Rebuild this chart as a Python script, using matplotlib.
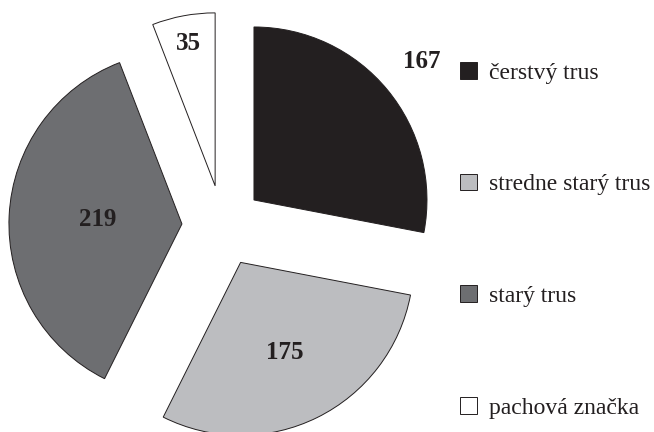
import matplotlib
matplotlib.use("Agg")
import matplotlib.pyplot as plt
import numpy as np

categories = ["čerstvý trus", "stredne starý trus", "starý trus", "pachová značka"]
values = [167, 175, 219, 35]
value_labels = ["167", "175", "219", "35"]
colors = ["#231f20", "#bcbdc0", "#6d6e71", "#ffffff"]

# layout (pixel units of the figure)
W, H = 654, 432
center = (222.6, H - 225.9)
radius = 173
explode_px = 40.7
label_dist = [1.257, 0.578, 0.486, 0.84]

fig = plt.figure(figsize=(W / 100, H / 100), dpi=100)
ax = fig.add_axes([0, 0, 1, 1])
wedges, _ = ax.pie(values, colors=colors, startangle=90, counterclock=False,
                   center=center, radius=radius, explode=[explode_px] * len(values),
                   wedgeprops=dict(edgecolor="#231f20", linewidth=0.7))
ax.set_xlim(0, W)
ax.set_ylim(0, H)
ax.set_aspect("equal")
ax.axis("off")

for w, lab, d in zip(wedges, value_labels, label_dist):
    mid = np.deg2rad((w.theta1 + w.theta2) / 2)
    cx, cy = w.center
    x = cx + d * w.r * np.cos(mid)
    y = cy + d * w.r * np.sin(mid)
    ax.text(x, y, lab, ha="center", va="center", fontsize=18, fontweight="bold",
            family="Liberation Serif", color="#231f20")

leg = ax.legend(wedges, categories, loc="upper left",
                bbox_to_anchor=(460 / W, 1 - 62 / H), bbox_transform=fig.transFigure,
                frameon=False, borderpad=0, borderaxespad=0,
                handlelength=0.72, handleheight=0.72, handletextpad=0.5,
                labelspacing=3.81, prop=dict(family="Liberation Serif", size=17))
for t in leg.get_texts():
    t.set_color("#231f20")

fig.savefig("out.png", dpi=100)
